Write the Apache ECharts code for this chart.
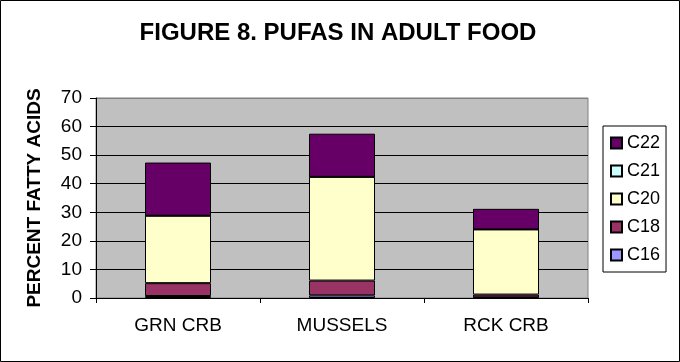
<!DOCTYPE html>
<html><head><meta charset="utf-8">
<script src="https://cdn.jsdelivr.net/npm/echarts@6/dist/echarts.min.js"></script>
<style>html,body{margin:0;padding:0;background:#fff}#c{width:680px;height:362px}</style>
</head><body><div id="c"></div>
<script>
var categories = ['GRN CRB', 'MUSSELS', 'RCK CRB'];
var c16 = [0.7, 0.9, 0.2];
var c18 = [4.5, 5.2, 1.0];
var c20 = [23.6, 36.3, 22.8];
var c21 = [0, 0, 0];
var c22 = [18.6, 15.1, 7.2];
var yTicks = [0, 10, 20, 30, 40, 50, 60, 70];

var font = 'Arial, "Liberation Sans", sans-serif';
function s(name, data, color) {
  return { name: name, type: 'bar', stack: 'a', data: data, barWidth: 66,
    itemStyle: { color: color, borderColor: '#000', borderWidth: 1 } };
}
var chart = echarts.init(document.getElementById('c'));
chart.setOption({
  animation: false,
  textStyle: { fontFamily: font },
  graphic: [{ type: 'rect', shape: { x: 0.5, y: 0.5, width: 679, height: 361 },
    style: { fill: 'none', stroke: '#000', lineWidth: 1 }, z: 100 }],
  title: { text: 'FIGURE 8. PUFAS IN ADULT FOOD', left: 333, textAlign: 'center', top: 16,
    textStyle: { fontFamily: font, fontSize: 24, fontWeight: 'bold', color: '#000' } },
  grid: { left: 96, top: 98, right: 92, bottom: 64, show: true, backgroundColor: '#C0C0C0',
    borderColor: '#808080', borderWidth: 1 },
  legend: { orient: 'vertical', left: 603, top: 126, data: ['C22', 'C21', 'C20', 'C18', 'C16'],
    icon: 'rect', itemWidth: 11, itemHeight: 11, itemGap: 10, itemTextGap: 6,
    padding: [8, 6, 8, 7], backgroundColor: '#fff', borderColor: '#000', borderWidth: 1,
    textStyle: { fontFamily: font, fontSize: 18, color: '#000' } },
  xAxis: { type: 'category', data: categories,
    axisLine: { lineStyle: { color: '#000' } },
    axisTick: { show: true, length: 5, lineStyle: { color: '#000' } },
    axisLabel: { color: '#000', fontSize: 19, margin: 18, fontFamily: font } },
  yAxis: { type: 'value', min: yTicks[0], max: yTicks[yTicks.length - 1], interval: 10,
    name: 'PERCENT FATTY ACIDS', nameLocation: 'middle', nameGap: 52, nameRotate: 90,
    nameTextStyle: { fontFamily: font, fontSize: 19, fontWeight: 'bold', color: '#000' },
    axisLine: { show: true, lineStyle: { color: '#000' } },
    axisTick: { show: true, length: 6, lineStyle: { color: '#000' } },
    axisLabel: { color: '#000', fontSize: 19, margin: 14, fontFamily: font },
    splitLine: { show: true, lineStyle: { color: ['#000', '#000', '#000', '#000', '#000', '#000', '#000', '#808080'], width: 1 } } },
  series: [
    s('C16', c16, '#9999FF'),
    s('C18', c18, '#993366'),
    s('C20', c20, '#FFFFCC'),
    s('C21', c21, '#CCFFFF'),
    s('C22', c22, '#660066')
  ]
});
</script></body></html>
